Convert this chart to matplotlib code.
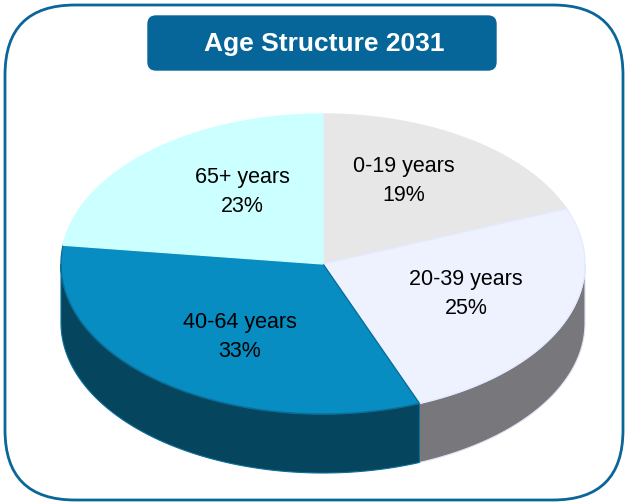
import matplotlib.pyplot as plt
import numpy as np
from matplotlib.patches import FancyBboxPatch, Polygon

plt.rcParams['font.family'] = ['Liberation Sans', 'DejaVu Sans']

title = "Age Structure 2031"
groups = ["0-19 years", "20-39 years", "40-64 years", "65+ years"]
shares = [19, 25, 33, 23]
top_colors = ["#E7E7E7", "#EEF2FF", "#078DC2", "#CCFFFF"]
side_colors = ["#A8A8A8", "#78787C", "#05465E", "#8FC8C8"]
edge_colors = ["#E7E7E7", "#E4EAFF", "#0A6E99", "#CCFFFF"]
side_edges = ["#A8A8A8", "#DDE3F5", "#0A6E99", "#8FC8C8"]
label_pos = [(404, 181), (466, 294), (240, 337), (242, 192)]

# pie geometry in pixel units
cx, cy = 323, 264
rx, ry = 262, 150
depth = 59

fig = plt.figure(figsize=[6.28, 5.03], dpi=100)
ax = fig.add_axes([0, 0, 1, 1])
ax.set_xlim(0, 628)
ax.set_ylim(503, 0)
ax.axis('off')

# outer frame
ax.add_patch(FancyBboxPatch((5 + 70, 5 + 70), 618 - 140, 495 - 140,
                            boxstyle="round,pad=70", fc="white",
                            ec="#0A6699", lw=2))

# title box
ax.add_patch(FancyBboxPatch((148 + 8, 16 + 8), 348 - 16, 54 - 16,
                            boxstyle="round,pad=8", fc="#066699", ec="#066699", lw=1))
ax.text(324, 44, title, ha='center', va='center', color='white',
        fontsize=19, fontweight='bold')


def arc(a0, a1, n=200):
    t = np.radians(np.linspace(a0, a1, n))
    return cx + rx * np.cos(t), cy - ry * np.sin(t)


total = sum(shares)
angles = [90.0]
for s in shares:
    angles.append(angles[-1] - 360.0 * s / total)

# side walls (front half only, angles between 180 and 360)
for i in range(len(shares)):
    a_hi, a_lo = angles[i], angles[i + 1]
    for off in (0, -360, 360):
        lo = max(a_lo + off, -180)
        hi = min(a_hi + off, 0)
        if hi > lo:
            x, y = arc(lo, hi)
            px = np.concatenate([x, x[::-1]])
            py = np.concatenate([y, (y + depth)[::-1]])
            ax.add_patch(Polygon(np.column_stack([px, py]), closed=True,
                                 fc=side_colors[i], ec=side_edges[i], lw=0.8))

# top faces
for i in range(len(shares)):
    x, y = arc(angles[i + 1], angles[i])
    px = np.concatenate([[cx], x, [cx]])
    py = np.concatenate([[cy], y, [cy]])
    ax.add_patch(Polygon(np.column_stack([px, py]), closed=True,
                         fc=top_colors[i], ec=edge_colors[i], lw=1))

for g, s, (lx, ly) in zip(groups, shares, label_pos):
    ax.text(lx, ly, f"{g}\n{s}%", ha='center', va='center', fontsize=15.5,
            linespacing=1.45, color='black')

fig.savefig("out.png", dpi=100)
